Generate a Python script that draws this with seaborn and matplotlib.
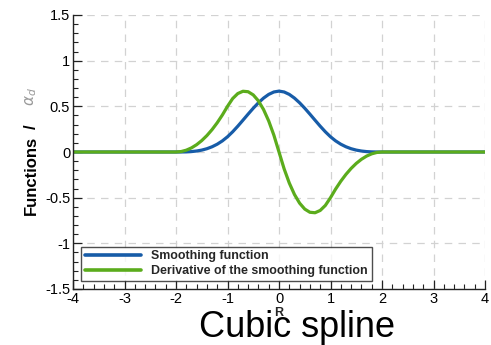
import numpy as np
import pandas as pd
import matplotlib
matplotlib.use("Agg")
import matplotlib.pyplot as plt
from matplotlib.ticker import MultipleLocator, FixedLocator
import seaborn as sns

# Sample positions R (kernel support is |R| < 2, flat zero outside)
R = [-4.0,
     -2.0, -1.9, -1.8, -1.7, -1.6, -1.5, -1.4, -1.3, -1.2, -1.1,
     -1.0, -0.9, -0.8, -0.7, -0.6, -0.5, -0.4, -0.3, -0.2, -0.1,
     0.0,
     0.1, 0.2, 0.3, 0.4, 0.5, 0.6, 0.7, 0.8, 0.9, 1.0,
     1.1, 1.2, 1.3, 1.4, 1.5, 1.6, 1.7, 1.8, 1.9, 2.0,
     4.0]

# Cubic spline smoothing function W(R)
smoothing = [0.0,
             0.0, 0.0002, 0.0013, 0.0045, 0.0107, 0.0208, 0.0360, 0.0572, 0.0853, 0.1215,
             0.1667, 0.2212, 0.2827, 0.3482, 0.4147, 0.4792, 0.5387, 0.5902, 0.6307, 0.6572,
             0.6667,
             0.6572, 0.6307, 0.5902, 0.5387, 0.4792, 0.4147, 0.3482, 0.2827, 0.2212, 0.1667,
             0.1215, 0.0853, 0.0572, 0.0360, 0.0208, 0.0107, 0.0045, 0.0013, 0.0002, 0.0,
             0.0]

# Its derivative dW/dR
derivative = [0.0,
              0.0, 0.005, 0.020, 0.045, 0.080, 0.125, 0.180, 0.245, 0.320, 0.405,
              0.500, 0.585, 0.640, 0.665, 0.660, 0.625, 0.560, 0.465, 0.340, 0.185,
              0.0,
              -0.185, -0.340, -0.465, -0.560, -0.625, -0.660, -0.665, -0.640, -0.585, -0.500,
              -0.405, -0.320, -0.245, -0.180, -0.125, -0.080, -0.045, -0.020, -0.005, 0.0,
              0.0]

series_names = ["Smoothing function", "Derivative of the smoothing function"]
series_colors = ["#175ca8", "#5bac1c"]

x_ticks = [-4, -3, -2, -1, 0, 1, 2, 3, 4]
x_ticklabels = ["-4", "-3", "-2", "-1", "0", "1", "2", "3", "4"]
y_ticks = [-1.5, -1, -0.5, 0, 0.5, 1, 1.5]
y_ticklabels = ["-1.5", "-1", "-0.5", "0", "0.5", "1", "1.5"]

df = pd.DataFrame({
    "R": R * 2,
    "value": smoothing + derivative,
    "series": [series_names[0]] * len(R) + [series_names[1]] * len(R),
})

sns.set_style("white")
plt.rcParams["font.family"] = ["Liberation Sans", "DejaVu Sans"]
plt.rcParams["axes.unicode_minus"] = False

fig = plt.figure(figsize=(4.91, 3.45), dpi=100)
ax = fig.add_axes([73 / 491, 56 / 345, 412 / 491, 274 / 345])

sns.lineplot(data=df, x="R", y="value", hue="series", hue_order=series_names,
             palette=series_colors, linewidth=2.3, ax=ax, legend=True)

ax.set_xlim(-4, 4)
ax.set_ylim(-1.5, 1.5)
ax.xaxis.set_major_locator(FixedLocator(x_ticks))
ax.set_xticklabels(x_ticklabels)
ax.yaxis.set_major_locator(FixedLocator(y_ticks))
ax.set_yticklabels(y_ticklabels)
ax.xaxis.set_minor_locator(MultipleLocator(0.2))
ax.yaxis.set_minor_locator(MultipleLocator(0.1))

ax.grid(True, which="major", color="#d2d2d2", linestyle=(0, (6, 5)), linewidth=0.9)
ax.set_axisbelow(True)

for side in ["top", "right"]:
    ax.spines[side].set_visible(False)
for side in ["left", "bottom"]:
    ax.spines[side].set_color("#222222")
    ax.spines[side].set_linewidth(1.0)

ax.tick_params(which="major", direction="in", length=6.5, width=0.9, color="#222222",
               labelsize=10.5, pad=2, labelcolor="black")
ax.tick_params(which="minor", direction="in", length=3.5, width=0.8, color="#222222")
ax.tick_params(axis="y", which="both", left=True)
ax.tick_params(axis="x", which="both", bottom=True)

ax.set_xlabel("R", fontsize=9, fontweight="bold", labelpad=1)
ax.set_ylabel("")

leg = ax.legend(loc="lower left", bbox_to_anchor=(0.019, 0.029), borderaxespad=0,
                frameon=True, fancybox=False, edgecolor="#222222",
                prop={"size": 8.9, "weight": "bold"}, handlelength=4.6,
                handletextpad=0.8, labelspacing=0.25, borderpad=0.3)
leg.get_frame().set_linewidth(1.0)
for line in leg.get_lines():
    line.set_linewidth(2.6)

fig.text(31 / 491, (345 - 215) / 345, "Functions", rotation=90,
         ha="center", va="bottom", fontsize=12, fontweight="bold", color="black")
fig.text(31 / 491, (345 - 129) / 345, "/", rotation=90,
         ha="center", va="bottom", fontsize=12, fontweight="bold", color="black")
fig.text(31 / 491, (345 - 106) / 345, r"$\alpha_d$", rotation=90,
         ha="center", va="bottom", fontsize=11, color="#9a9a9a")

fig.text(297 / 491, 8 / 345, "Cubic spline", ha="center", va="baseline",
         fontsize=26, color="black")

fig.savefig("out.png", dpi=100, facecolor="white")
